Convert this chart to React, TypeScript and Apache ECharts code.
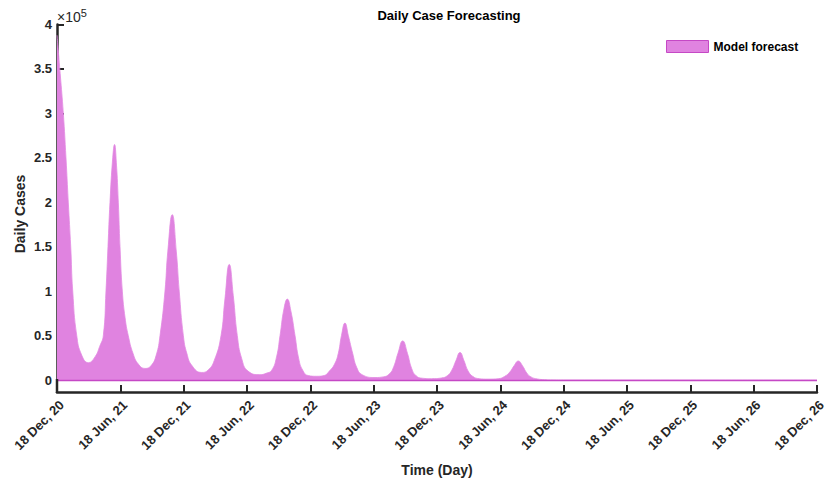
import React, { useEffect, useRef } from "react";
import * as echarts from "echarts";

// x position in months after 18 Dec 2020
const months = [
  0, 0.3, 0.6, 0.85, 1.07, 1.3, 1.49, 1.87, 2.34, 2.97, 3.6, 4.05, 4.39, 4.64, 4.83, 5.02, 5.28, 5.45,
  5.62, 5.81, 5.97, 6.19, 6.45, 6.75, 7.2, 7.7, 8.34, 8.9, 9.4, 9.76, 10.23, 10.5, 10.92, 11.3, 11.58,
  11.97, 12.3, 12.8, 13.71, 14.3, 14.9, 15.54, 15.9, 16.32, 16.7, 17.08, 17.5, 18.1, 19.23, 19.8, 20.34,
  20.8, 21.13, 21.5, 21.82, 22.15, 22.55, 22.9, 23.28, 23.8, 24.6, 25.3, 25.8, 26.3, 26.65, 26.95, 27.28,
  27.6, 28.01, 28.4, 28.9, 30.13, 30.9, 31.5, 31.9, 32.3, 32.75, 33.2, 33.6, 34.0, 34.6, 35.5, 36.4, 37.0,
  37.4, 37.8, 38.18, 38.55, 38.95, 39.4, 40.0, 40.83, 41.8, 42.4, 42.9, 43.3, 43.7, 44.1, 44.5, 44.9, 45.5,
  46.2, 47.0, 48, 60, 72,
];

const dailyCases = [
  388000, 345000, 300000, 250000, 200000, 150000, 100000, 50000, 28000, 19500, 26000, 38000, 50000, 100000,
  150000, 200000, 250000, 265000, 245000, 200000, 150000, 100000, 70000, 50000, 30000, 18000, 13000, 16000,
  28000, 50000, 100000, 145000, 186000, 145000, 100000, 50000, 30000, 16000, 8500, 11000, 22000, 50000,
  90000, 130000, 95000, 50000, 24000, 10000, 6000, 7500, 11000, 26000, 50000, 80000, 91000, 78000, 50000,
  24000, 11000, 5000, 4200, 5000, 10000, 18000, 30000, 50000, 64000, 50000, 30000, 14000, 6000, 2800,
  3500, 7000, 15000, 30000, 44000, 30000, 13000, 5000, 2000, 1500, 2200, 5000, 11000, 22000, 31000, 22000,
  10000, 4000, 1500, 1000, 1500, 4000, 9000, 16000, 21400, 16000, 8000, 3500, 1200, 400, 100, 0, 0, 0,
];

const xTickLabels = [
  "18 Dec, 20", "18 Jun, 21", "18 Dec, 21", "18 Jun, 22", "18 Dec, 22", "18 Jun, 23", "18 Dec, 23",
  "18 Jun, 24", "18 Dec, 24", "18 Jun, 25", "18 Dec, 25", "18 Jun, 26", "18 Dec, 26",
];

const seriesName = "Model forecast";
const chartTitle = "Daily Case Forecasting";
const xName = "Time (Day)";
const yName = "Daily Cases";

const FONT = "'Liberation Sans', Arial, Helvetica, sans-serif";
const AXIS = "#262626";
const FILL = "#e083e0";
const EDGE = "#c548c5";

export default function App() {
  const ref = useRef<HTMLDivElement>(null);

  useEffect(() => {
    document.body.style.margin = "0";
    const chart = echarts.init(ref.current!, null, { renderer: "svg" });
    const data = months.map((m, i) => [m, dailyCases[i]]);
    chart.setOption({
      animation: false,
      backgroundColor: "#ffffff",
      textStyle: { fontFamily: FONT },
      grid: { left: 57, right: 10, top: 24.5, bottom: 101, containLabel: false, outerBoundsMode: "none" },
      legend: {
        data: [seriesName],
        left: 666,
        top: 40,
        padding: 0,
        icon: "rect",
        itemWidth: 42,
        itemHeight: 12,
        itemGap: 6,
        itemStyle: { color: FILL, borderColor: EDGE, borderWidth: 1 },
        textStyle: { fontFamily: FONT, fontWeight: "bold", fontSize: 12, color: "#000" },
      },
      xAxis: {
        type: "value",
        min: 0,
        max: 72,
        interval: 6,
        offset: 12,
        axisLine: { show: true, onZero: false, lineStyle: { color: AXIS, width: 2.5 } },
        axisTick: { show: true, inside: true, length: 7, lineStyle: { color: AXIS, width: 2 } },
        splitLine: { show: false },
        axisLabel: {
          rotate: 45,
          margin: 6,
          verticalAlign: "top",
          fontFamily: FONT,
          fontWeight: "bold",
          fontSize: 13,
          color: AXIS,
          formatter: (v: number) => xTickLabels[Math.round(v / 6)] ?? "",
        },
      },
      yAxis: {
        type: "value",
        min: 0,
        max: 400000,
        interval: 50000,
        axisLine: { show: true, lineStyle: { color: AXIS, width: 2.5 } },
        axisTick: { show: true, inside: true, length: 7, lineStyle: { color: AXIS, width: 2 } },
        splitLine: { show: false },
        axisLabel: {
          margin: 5,
          fontFamily: FONT,
          fontWeight: "bold",
          fontSize: 13,
          color: AXIS,
          formatter: (v: number) => String(v / 100000),
        },
      },
      series: [
        {
          type: "line",
          name: seriesName,
          data,
          symbol: "none",
          showSymbol: false,
          smooth: 0.5,
          lineStyle: { color: "#e28ae2", width: 0.8 },
          itemStyle: { color: FILL },
          areaStyle: { color: FILL, opacity: 1 },
          markLine: {
            silent: true,
            symbol: "none",
            label: { show: false },
            lineStyle: { color: EDGE, width: 1.3, type: "solid" },
            data: [{ yAxis: 0 }],
          },
        },
      ],
      graphic: [
        {
          type: "line",
          shape: { x1: 57, y1: 379, x2: 57, y2: 393 },
          style: { stroke: AXIS, lineWidth: 2.5 },
          z: 100,
        },
        {
          type: "text",
          x: 449,
          y: 15,
          style: {
            text: chartTitle,
            fontFamily: FONT,
            fontWeight: "bold",
            fontSize: 13,
            fill: "#000",
            align: "center",
            verticalAlign: "middle",
          },
        },
        {
          type: "text",
          x: 437,
          y: 470,
          style: {
            text: xName,
            fontFamily: FONT,
            fontWeight: "bold",
            fontSize: 14,
            fill: AXIS,
            align: "center",
            verticalAlign: "middle",
          },
        },
        {
          type: "text",
          x: 20,
          y: 214,
          rotation: Math.PI / 2,
          style: {
            text: yName,
            fontFamily: FONT,
            fontWeight: "bold",
            fontSize: 14,
            fill: AXIS,
            align: "center",
            verticalAlign: "middle",
          },
        },
        {
          type: "text",
          x: 57,
          y: 7,
          style: {
            text: "{a|×10}{b|5}",
            fontFamily: FONT,
            fill: AXIS,
            rich: {
              a: { fontSize: 14, fontFamily: FONT, fill: AXIS, verticalAlign: "bottom", lineHeight: 17 },
              b: { fontSize: 11, fontFamily: FONT, fill: AXIS, verticalAlign: "top", lineHeight: 17, padding: [0, 0, 7, 0] },
            },
          },
        },
      ],
    });
    return () => chart.dispose();
  }, []);

  return <div ref={ref} style={{ position: "fixed", left: 0, top: 0, width: 827, height: 481 }} />;
}
